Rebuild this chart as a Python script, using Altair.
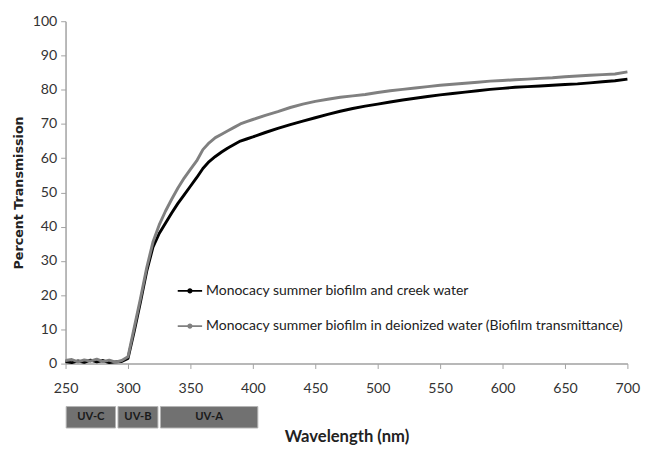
import altair as alt
import pandas as pd

# ---- data ----
wavelength = [250, 255, 260, 265, 270, 275, 280, 285, 290, 295,
              300, 305, 310, 315, 320, 325, 330, 335, 340, 345,
              350, 355, 360, 365, 370, 375, 380, 385, 390, 395, 400,
              410, 420, 430, 440, 450, 460, 470, 480, 490, 500,
              510, 520, 530, 540, 550, 560, 570, 580, 590, 600,
              610, 620, 630, 640, 650, 660, 670, 680, 690, 700]

creek = [0.6, 0.3, 0.8, 0.4, 1.0, 0.5, 0.9, 0.3, 0.5, 0.6,
         1.5, 9.5, 18, 27, 34, 38, 41, 44, 46.8, 49.3,
         51.8, 54.3, 57, 59, 60.5, 61.8, 63, 64, 65, 65.6, 66.2,
         67.5, 68.7, 69.8, 70.8, 71.8, 72.8, 73.7, 74.5, 75.2, 75.8,
         76.4, 77, 77.5, 78, 78.5, 78.9, 79.3, 79.7, 80.1, 80.4,
         80.7, 80.9, 81.1, 81.3, 81.5, 81.7, 82, 82.3, 82.6, 83.1]

deionized = [0.9, 1.2, 0.5, 1.1, 0.7, 1.3, 0.6, 1.0, 0.4, 0.9,
             2, 10.5, 19, 28, 35.5, 40.5, 44.5, 48, 51.3, 54.2,
             56.7, 59.2, 62.5, 64.5, 66, 67, 68, 69, 70, 70.7, 71.3,
             72.5, 73.6, 74.8, 75.8, 76.6, 77.2, 77.8, 78.2, 78.6, 79.2,
             79.7, 80.1, 80.5, 80.9, 81.3, 81.6, 81.9, 82.2, 82.5, 82.7,
             82.9, 83.1, 83.3, 83.5, 83.8, 84, 84.2, 84.4, 84.6, 85.2]

series_names = ["Monocacy summer biofilm and creek water",
                "Monocacy summer biofilm in deionized water (Biofilm transmittance)"]
series_colors = ["#000000", "#808080"]

x_ticks = [250, 300, 350, 400, 450, 500, 550, 600, 650, 700]
y_ticks = [0, 10, 20, 30, 40, 50, 60, 70, 80, 90, 100]

band_names = ["UV-C", "UV-B", "UV-A"]
band_start = [250.5, 292, 326]
band_end = [290, 324, 404]

# ---- tables ----
df = pd.DataFrame({
    "wavelength": wavelength + wavelength,
    "value": creek + deionized,
    "series": [series_names[0]] * len(wavelength) + [series_names[1]] * len(wavelength),
})
bands = pd.DataFrame({"band": band_names, "start": band_start, "end": band_end})

x_scale = alt.Scale(domain=[250, 700], nice=False, zero=False)

legend_symbol = ("M-1,0L1,0M-0.14,0A0.14,0.14,0,1,1,0.14,0"
                 "A0.14,0.14,0,1,1,-0.14,0Z")

lines = alt.Chart(df).mark_line(strokeWidth=3, strokeJoin="round").encode(
    x=alt.X("wavelength:Q", scale=x_scale,
            axis=alt.Axis(values=x_ticks, title=None, grid=False,
                          labelPadding=14, labelFlush=False)),
    y=alt.Y("value:Q", scale=alt.Scale(domain=[0, 100], nice=False),
            axis=alt.Axis(values=y_ticks, title="Percent Transmission", grid=False,
                          labelPadding=4, labelFlush=False,
                          titleFont="DejaVu Sans", titleFontSize=13,
                          titleFontWeight="bold", titleColor="#222222",
                          titlePadding=7)),
    color=alt.Color("series:N",
                    scale=alt.Scale(domain=series_names, range=series_colors),
                    legend=alt.Legend(title=None, orient="none",
                                      legendX=114, legendY=263,
                                      symbolType=legend_symbol, symbolSize=625,
                                      symbolStrokeWidth=1.8,
                                      labelFont="Lato", labelFontSize=14.3,
                                      labelColor="#222222", rowPadding=15,
                                      labelOffset=3, labelLimit=600)),
).properties(width=576, height=351)

x_bottom_axis = alt.Axis(title="Wavelength (nm)", labels=False, ticks=False,
                         domain=False, grid=False, titleFont="Lato",
                         titleFontSize=17, titleFontWeight="bold",
                         titleColor="#222222", titlePadding=1)

rects = alt.Chart(bands).mark_rect(color="#717171", stroke="#b5b5b5", strokeWidth=1).encode(
    x=alt.X("start:Q", scale=x_scale, axis=x_bottom_axis, title="Wavelength (nm)"),
    x2="end:Q",
)
texts = alt.Chart(bands).transform_calculate(
    mid="(datum.start + datum.end) / 2"
).mark_text(color="#1a1a1a", font="Lato", fontSize=11.5, fontWeight="bold").encode(
    x=alt.X("mid:Q", scale=x_scale, axis=x_bottom_axis, title="Wavelength (nm)"),
    text="band:N",
)
bottom = alt.layer(rects, texts).properties(width=576, height=22)

chart = alt.vconcat(lines, bottom, spacing=10).properties(
    padding={"left": 4, "top": 0, "right": 4, "bottom": 0}
).configure_view(stroke=None).configure_axis(
    domainColor="#a0a0a0", domainWidth=1.5, tickColor="#a0a0a0", tickSize=5,
    labelFont="Lato", labelFontSize=14.5, labelColor="#333333",
)

chart.save("out.html", embed_options={"renderer": "svg", "actions": False})
